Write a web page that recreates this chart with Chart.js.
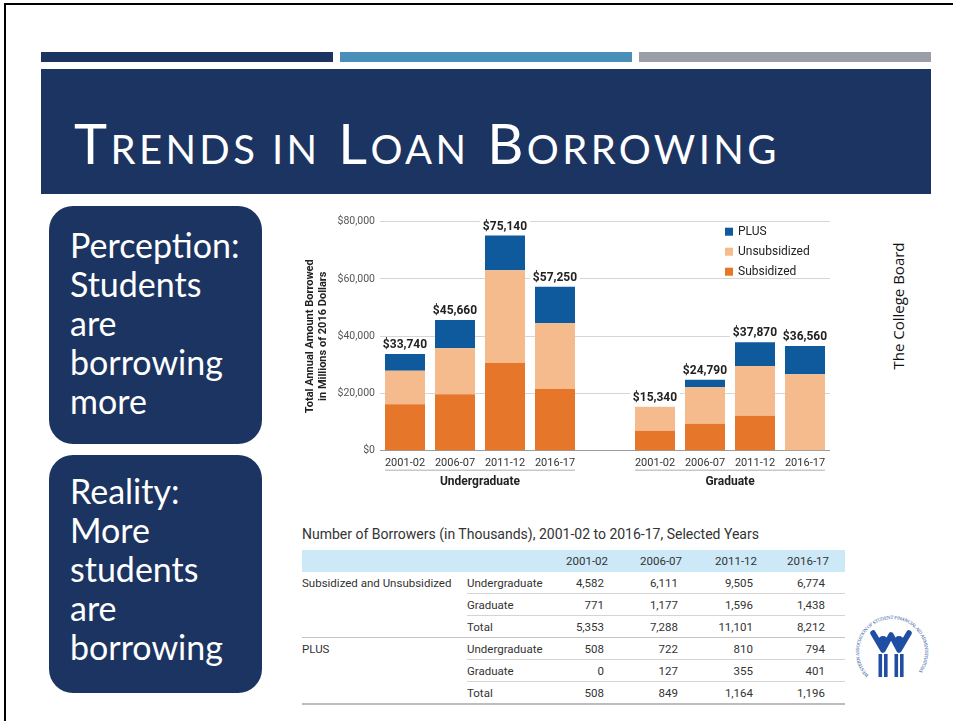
<!DOCTYPE html>
<html>
<head>
<meta charset="utf-8">
<script src="https://cdn.jsdelivr.net/npm/chart.js@4.4.1/dist/chart.umd.min.js"></script>
<style>
  body { margin: 0; width: 953px; height: 721px; background: #fff; position: relative; overflow: hidden; font-family: Lato, sans-serif; }
  .frame { position: absolute; left: 4px; top: 3px; width: 1200px; height: 1200px; border-left: 2px solid #000; border-top: 2px solid #000; }
  .stripe { position: absolute; top: 52px; height: 10px; }
  .banner { position: absolute; left: 41px; top: 69px; width: 890px; height: 125px; background: #1c3461; }
  .title { position: absolute; left: 74px; top: 115px; color: #fff; font-size: 56px; line-height: 56px; letter-spacing: 3.4px; white-space: nowrap; }
  .title span { font-size: 40px; }
  .box { position: absolute; left: 49px; width: 213px; background: #1c3461; border-radius: 24px; color: #fff; font-size: 34px; line-height: 39px; box-sizing: border-box; padding-left: 21px; }
  .source { position: absolute; left: 898px; top: 306px; transform: translate(-50%, -50%) rotate(-90deg); font-family: "Open Sans", sans-serif; font-size: 15px; color: #111; white-space: nowrap; }
  #wrap { position: absolute; left: 295px; top: 205px; width: 555px; height: 295px; }
  .ttitle { position: absolute; left: 302px; top: 526px; font-family: Roboto, sans-serif; font-size: 14px; color: #333; white-space: nowrap; }
  table { position: absolute; left: 302px; top: 550px; border-collapse: collapse; table-layout: fixed; width: 543px; font-family: Roboto, sans-serif; font-size: 11.5px; color: #333; }
  td { height: 21px; padding: 0; white-space: nowrap; overflow: visible; }
  td.n { text-align: right; padding-right: 4px; }
  tr.head td { background: #cde9f8; height: 22px; }
  tr.head td.n { padding-right: 0; }
  td.ln { border-top: 1px solid #d4d4d4; }
  tr.grp td { border-top: 1px solid #c4c4c4; }
  tr.last td { border-bottom: 2px solid #bdbdbd; }
</style>
</head>
<body>
<div class="frame"></div>
<div class="stripe" style="left:41px;width:292px;background:#1c3461"></div>
<div class="stripe" style="left:340px;width:292px;background:#4a8fba"></div>
<div class="stripe" style="left:639px;width:292px;background:#9a9fa7"></div>
<div class="banner"></div>
<div class="title">T<span>RENDS IN</span> L<span>OAN</span> B<span>ORROWING</span></div>

<div class="box" style="top:206px;height:238px;padding-top:19px">Perception:<br>Students<br>are<br>borrowing<br>more</div>
<div class="box" style="top:455px;height:238px;padding-top:16px">Reality:<br>More<br>students<br>are<br>borrowing</div>

<div class="source">The College Board</div>

<div id="wrap"><canvas id="chart" width="555" height="295"></canvas></div>

<div class="ttitle">Number of Borrowers (in Thousands), 2001-02 to 2016-17, Selected Years</div>
<table id="tbl"></table>

<svg style="position:absolute;left:850px;top:606px" width="86" height="92" viewBox="0 0 86 92">
  <defs><path id="ring" d="M 18.7 69.3 A 33 33 0 1 1 65.3 69.3"/></defs>
  <text font-family="DejaVu Serif, serif" font-size="4.3" fill="#2a4f9a">
    <textPath href="#ring" textLength="150" lengthAdjust="spacing">WESTERN ASSOCIATION OF STUDENT FINANCIAL AID ADMINISTRATORS</textPath>
  </text>
  <g fill="#1f4ea3" stroke="#1f4ea3">
    <circle cx="33" cy="35" r="5" stroke="none"/>
    <circle cx="49" cy="35" r="5" stroke="none"/>
    <path d="M23 27 L33 44 L41 29 L49 44 L59 27" fill="none" stroke-width="5.5" stroke-linejoin="round" stroke-linecap="round"/>
    <rect x="28.5" y="48" width="3.6" height="23" stroke="none"/>
    <rect x="34" y="48" width="3.6" height="23" stroke="none"/>
    <rect x="44.5" y="48" width="3.6" height="23" stroke="none"/>
    <rect x="50" y="48" width="3.6" height="23" stroke="none"/>
  </g>
</svg>

<script>
// chart data (millions of 2016 dollars); the blank slot separates the two groups
const years = ['2001-02', '2006-07', '2011-12', '2016-17', '', '2001-02', '2006-07', '2011-12', '2016-17']
const subsidized = [16200, 19700, 30640, 21550, null, 7000, 9430, 12230, 0]
const unsubsidized = [11750, 16070, 32380, 22950, null, 8340, 12720, 17360, 26690]
const plus = [5790, 9890, 12120, 12750, null, 0, 2640, 8280, 9870]
const groups = [
  { label: 'Undergraduate', from: 0, to: 3 },
  { label: 'Graduate', from: 5, to: 8 },
]
const yTicks = [0, 20000, 40000, 60000, 80000]

// table data (borrowers, thousands)
const tableYears = ['2001-02', '2006-07', '2011-12', '2016-17']
const subUnsubUG = [4582, 6111, 9505, 6774]
const subUnsubGrad = [771, 1177, 1596, 1438]
const subUnsubTotal = [5353, 7288, 11101, 8212]
const plusUG = [508, 722, 810, 794]
const plusGrad = [0, 127, 355, 401]
const plusTotal = [508, 849, 1164, 1196]

const fmt = (v) => v.toLocaleString('en-US')

const tableRows = [
  { a: 'Subsidized and Unsubsidized', b: 'Undergraduate', v: subUnsubUG, cls: '' },
  { a: '', b: 'Graduate', v: subUnsubGrad, cls: 'ln' },
  { a: '', b: 'Total', v: subUnsubTotal, cls: 'ln' },
  { a: 'PLUS', b: 'Undergraduate', v: plusUG, cls: 'grp' },
  { a: '', b: 'Graduate', v: plusGrad, cls: 'ln' },
  { a: '', b: 'Total', v: plusTotal, cls: 'ln last' },
]

const widths = [165, 73, 68, 74, 75, 72, 16]
let html = '<colgroup>' + widths.map((w) => `<col style="width:${w}px">`).join('') + '</colgroup>'
html += '<tr class="head"><td></td><td></td>' + tableYears.map((y) => `<td class="n">${y}</td>`).join('') + '<td></td></tr>'
tableRows.forEach((r) => {
  const rowCls = r.cls.includes('grp') ? 'grp' : (r.cls.includes('last') ? 'last' : '')
  const ln = r.cls.includes('ln') ? 'ln' : ''
  html += `<tr class="${rowCls}"><td>${r.a}</td>`
  html += `<td class="${ln}">${r.b}</td>`
  html += r.v.map((v) => `<td class="n ${ln}">${fmt(v)}</td>`).join('')
  html += `<td class="${ln}"></td></tr>`
})
document.getElementById('tbl').innerHTML = html

const colors = { plus: '#0f5a9c', unsub: '#f5bb8c', sub: '#e6762a' }

const totalsPlugin = {
  id: 'totals',
  afterDatasetsDraw(chart) {
    const { ctx, scales: { x, y } } = chart
    ctx.save()
    ctx.font = 'bold 12px Roboto'
    ctx.textAlign = 'center'
    ctx.textBaseline = 'middle'
    years.forEach((_, i) => {
      const total = chart.data.datasets.reduce((s, d) => s + (d.data[i] || 0), 0)
      if (!total) return
      const px = x.getPixelForValue(i)
      const py = y.getPixelForValue(total) - 9
      const label = '$' + fmt(total)
      const w = ctx.measureText(label).width
      ctx.fillStyle = '#fff'
      ctx.fillRect(px - w / 2 - 3, py - 6, w + 6, 12)
      ctx.fillStyle = '#222'
      ctx.fillText(label, px, py)
    })
    ctx.restore()
  },
}

const groupPlugin = {
  id: 'groups',
  afterDraw(chart) {
    const { ctx, chartArea, scales: { x } } = chart
    const half = x.getPixelForValue(1) - x.getPixelForValue(0)
    ctx.save()
    groups.forEach((g) => {
      const x0 = x.getPixelForValue(g.from) - half * 0.4
      const x1 = x.getPixelForValue(g.to) + half * 0.4
      ctx.strokeStyle = '#c8c8c8'
      ctx.lineWidth = 1.5
      ctx.beginPath()
      ctx.moveTo(x0, chartArea.bottom + 19.5)
      ctx.lineTo(x1, chartArea.bottom + 19.5)
      ctx.stroke()
      ctx.fillStyle = '#222'
      ctx.font = 'bold 12px Roboto'
      ctx.textAlign = 'center'
      ctx.textBaseline = 'middle'
      ctx.fillText(g.label, (x0 + x1) / 2, chartArea.bottom + 31)
    })
    ctx.restore()
  },
}

const legendPlugin = {
  id: 'sideLegend',
  afterDraw(chart) {
    const { ctx, chartArea } = chart
    const items = chart.data.datasets.slice().reverse()
    ctx.save()
    ctx.font = '12px Roboto'
    ctx.textBaseline = 'middle'
    items.forEach((d, i) => {
      const yy = chartArea.top + 10 + i * 20
      const xx = chartArea.right - 105
      ctx.fillStyle = d.backgroundColor
      ctx.fillRect(xx, yy - 4, 8, 8)
      ctx.fillStyle = '#222'
      ctx.fillText(d.label, xx + 13, yy)
    })
    ctx.restore()
  },
}

new Chart(document.getElementById('chart'), {
  type: 'bar',
  data: {
    labels: years,
    datasets: [
      { label: 'Subsidized', data: subsidized, backgroundColor: colors.sub },
      { label: 'Unsubsidized', data: unsubsidized, backgroundColor: colors.unsub },
      { label: 'PLUS', data: plus, backgroundColor: colors.plus },
    ],
  },
  options: {
    responsive: false,
    animation: false,
    layout: { padding: { top: 16.7, right: 20, left: 0, bottom: 0 } },
    datasets: { bar: { categoryPercentage: 1, barPercentage: 0.8 } },
    plugins: { legend: { display: false }, tooltip: { enabled: false } },
    scales: {
      x: {
        stacked: true,
        grid: { display: false, drawTicks: false },
        border: { display: false },
        ticks: { padding: 6, color: '#333', font: { family: 'Roboto', size: 11 }, maxRotation: 0, autoSkip: false },
        afterFit: (s) => { s.height = 49.3 },
      },
      y: {
        stacked: true,
        min: 0,
        max: 80000,
        afterBuildTicks: (s) => { s.ticks = yTicks.map((v) => ({ value: v })) },
        grid: {
          drawTicks: false,
          color: (c) => (c.tick && c.tick.value === 0 ? '#9c9c9c' : '#d6d6d6'),
        },
        border: { display: false },
        ticks: {
          padding: 5,
          color: '#555',
          font: { family: 'Roboto', size: 10.5 },
          callback: (v) => '$' + fmt(v),
        },
        title: {
          display: true,
          text: ['Total Annual Amount Borrowed', 'in Millions of 2016 Dollars'],
          color: '#222',
          font: { family: 'Roboto', size: 11, weight: 'bold' },
          padding: { top: 8.4, bottom: 0 },
        },
        afterFit: (s) => { s.width = 85 },
      },
    },
  },
  plugins: [totalsPlugin, groupPlugin, legendPlugin],
})
</script>
</body>
</html>
